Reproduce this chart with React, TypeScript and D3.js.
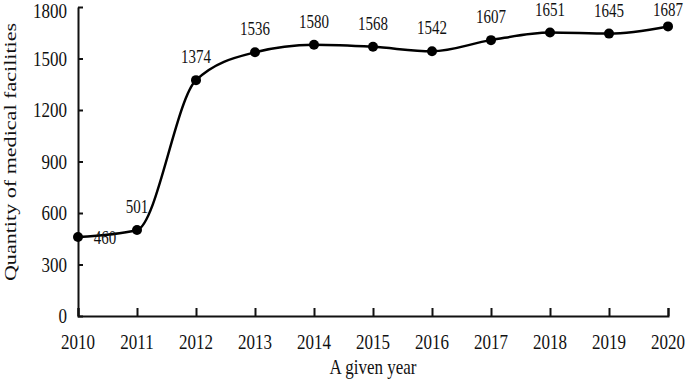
import React, { useEffect, useRef } from "react";
import * as d3 from "d3";

const years = [2010, 2011, 2012, 2013, 2014, 2015, 2016, 2017, 2018, 2019, 2020];
const facilities = [460, 501, 1374, 1536, 1580, 1568, 1542, 1607, 1651, 1645, 1687];
const yTicks = [0, 300, 600, 900, 1200, 1500, 1800];

const W = 685, H = 379;
const margin = { top: 7, right: 17, bottom: 63, left: 78 };
const font = "'Liberation Serif', 'Times New Roman', serif";
const stretch = 1.26; // the reference text looks stretched vertically

export default function App() {
  const ref = useRef<SVGSVGElement>(null);

  useEffect(() => {
    const svg = d3.select(ref.current);
    svg.selectAll("*").remove();

    const x = d3.scaleLinear().domain([2010, 2020]).range([margin.left, W - margin.right]);
    const y = d3.scaleLinear().domain([0, 1800]).range([H - margin.bottom, margin.top]);

    // text centred vertically on (cx, cy), stretched a bit in height
    const label = (cx: number, cy: number, txt: string, size: number, anchor = "middle") =>
      svg.append("text")
        .attr("transform", `translate(${cx},${cy}) scale(1,${stretch})`)
        .attr("dy", "0.34em")
        .attr("text-anchor", anchor)
        .attr("font-size", size)
        .attr("font-family", font)
        .attr("fill", "#111")
        .text(txt);

    // axes, ticks point inward
    const xAxis = d3.axisBottom(x).tickValues(years).tickFormat(() => "").tickSizeInner(-8).tickSizeOuter(-8);
    svg.append("g").attr("transform", `translate(0,${H - margin.bottom})`).call(xAxis);
    const yAxis = d3.axisLeft(y).tickValues(yTicks).tickFormat(() => "").tickSizeInner(-5).tickSizeOuter(0);
    svg.append("g").attr("transform", `translate(${margin.left},0)`).call(yAxis);
    svg.selectAll(".domain, .tick line").attr("stroke", "#111").attr("stroke-width", 2);

    years.forEach((yr) => label(x(yr), H - margin.bottom + 26, String(yr), 17));
    yTicks.forEach((t) => label(margin.left - 11, Math.max(y(t), 10.5), String(t), 17, "end"));

    label((margin.left + W - margin.right) / 2, 367, "A given year", 17);

    svg.append("text")
      .attr("transform", `translate(15.5,152) rotate(-90) scale(1.3,1)`)
      .attr("text-anchor", "middle")
      .attr("font-size", 17)
      .attr("font-family", font)
      .attr("fill", "#111")
      .text("Quantity of medical facilities");

    const line = d3.line<number>()
      .x((_, i) => x(years[i]))
      .y((d) => y(d))
      .curve(d3.curveMonotoneX);

    svg.append("path")
      .attr("d", line(facilities))
      .attr("fill", "none")
      .attr("stroke", "#000")
      .attr("stroke-width", 2.5);

    svg.selectAll("circle.pt")
      .data(facilities)
      .enter()
      .append("circle")
      .attr("class", "pt")
      .attr("cx", (_, i) => x(years[i]))
      .attr("cy", (d) => y(d))
      .attr("r", 5)
      .attr("fill", "#000");

    facilities.forEach((v, i) => {
      const px = x(years[i]);
      const py = y(v);
      if (i === 0) label(px + 27, py + 1, String(v), 15);
      else if (i === facilities.length - 1) label(px, py - 17, String(v), 15);
      else label(px, py - 23.5, String(v), 15);
    });
  }, []);

  return (
    <svg ref={ref} width={W} height={H} style={{ position: "absolute", left: 0, top: 0, background: "#fff" }} />
  );
}
